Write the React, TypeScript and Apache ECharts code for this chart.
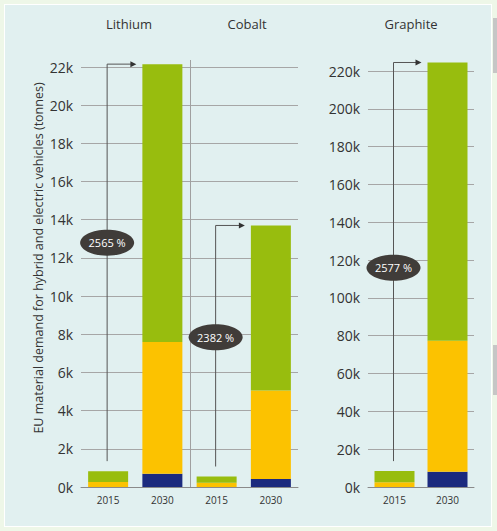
import React, { useEffect, useRef } from "react";
import * as echarts from "echarts";

// ---- data (tonnes) ----
const years = ["2015", "2030"];
const metals = ["Lithium", "Cobalt", "Graphite"];
const leftCategories = ["Lithium|2015", "Lithium|2030", "Cobalt|2015", "Cobalt|2030"];
const rightCategories = ["Graphite|2015", "Graphite|2030"];

const lithiumNavy = [0, 700];
const lithiumYellow = [260, 6900];
const lithiumGreen = [570, 14550];
const cobaltNavy = [0, 420];
const cobaltYellow = [220, 4630];
const cobaltGreen = [330, 8650];
const graphiteNavy = [0, 8000];
const graphiteYellow = [2500, 69300];
const graphiteGreen = [5900, 147200];

const growthLabels = ["2565 %", "2382 %", "2577 %"];
const growthLabelAt = [12800, 7850, 116000];

const leftMax = 22000;
const leftInterval = 2000;
const rightMax = 220000;
const rightInterval = 20000;

const yAxisTitle = "EU material demand for hybrid and electric vehicles (tonnes)";

const NAVY = "#1b2a7e";
const YELLOW = "#fcc200";
const GREEN = "#98bd0e";
const FONT = "'Liberation Sans Narrow', 'Open Sans', sans-serif";

export default function App() {
  const ref = useRef<HTMLDivElement>(null);

  useEffect(() => {
    if (!ref.current) return;
    const chart = echarts.init(ref.current, undefined, { renderer: "svg" });

    const kFmt = (v: number) => `${Math.round(v / 1000)}k`;
    const yearFmt = (v: string) => v.split("|")[1];

    const leftData = {
      navy: [...lithiumNavy, ...cobaltNavy],
      yellow: [...lithiumYellow, ...cobaltYellow],
      green: [...lithiumGreen, ...cobaltGreen],
    };
    const rightData = { navy: graphiteNavy, yellow: graphiteYellow, green: graphiteGreen };

    const yAxisCommon = {
      type: "value" as const,
      axisLine: { show: false },
      axisTick: { show: false },
      splitLine: { lineStyle: { color: "#a6a6a6", width: 1 } },
      axisLabel: { color: "#333", fontSize: 14, fontFamily: FONT, margin: 8, formatter: kFmt },
    };
    const xAxisCommon = {
      type: "category" as const,
      axisLine: { lineStyle: { color: "#8a8a8a" } },
      axisTick: { show: false },
      axisLabel: { color: "#333", fontSize: 10, fontFamily: FONT, margin: 8, formatter: yearFmt },
    };

    const mk = (name: string, data: number[], color: string, idx: number, stack: string) => ({
      type: "bar" as const,
      name,
      data,
      stack,
      xAxisIndex: idx,
      yAxisIndex: idx,
      barWidth: 40,
      clip: false,
      itemStyle: { color },
    });

    chart.setOption({
      animation: false,
      backgroundColor: "transparent",
      grid: [
        { left: 81, right: 199, top: 67, bottom: 44 },
        { left: 368, right: 23, top: 71, bottom: 44 },
      ],
      xAxis: [
        { ...xAxisCommon, gridIndex: 0, data: leftCategories },
        { ...xAxisCommon, gridIndex: 1, data: rightCategories },
      ],
      yAxis: [
        { ...yAxisCommon, gridIndex: 0, min: 0, max: leftMax, interval: leftInterval },
        { ...yAxisCommon, gridIndex: 1, min: 0, max: rightMax, interval: rightInterval },
      ],
      series: [
        mk("navy", leftData.navy, NAVY, 0, "l"),
        mk("yellow", leftData.yellow, YELLOW, 0, "l"),
        mk("green", leftData.green, GREEN, 0, "l"),
        mk("navy", rightData.navy, NAVY, 1, "r"),
        mk("yellow", rightData.yellow, YELLOW, 1, "r"),
        mk("green", rightData.green, GREEN, 1, "r"),
      ],
    });

    // annotations computed from scales
    const groups = [
      { grid: 0, c0: 0, c1: 1, n: lithiumNavy, y: lithiumYellow, g: lithiumGreen },
      { grid: 0, c0: 2, c1: 3, n: cobaltNavy, y: cobaltYellow, g: cobaltGreen },
      { grid: 1, c0: 0, c1: 1, n: graphiteNavy, y: graphiteYellow, g: graphiteGreen },
    ];
    const px = (grid: number, c: number, v: number) =>
      chart.convertToPixel({ xAxisIndex: grid, yAxisIndex: grid }, [c, v]) as number[];

    const elements: any[] = [];
    groups.forEach((gr, i) => {
      const t0 = gr.n[0] + gr.y[0] + gr.g[0];
      const t1 = gr.n[1] + gr.y[1] + gr.g[1];
      const p0 = px(gr.grid, gr.c0, t0);
      const p1 = px(gr.grid, gr.c1, t1);
      const pl = px(gr.grid, gr.c0, growthLabelAt[i]);
      const endX = p1[0] - 20 - 6;
      const lx = p0[0] - 1;
      elements.push({
        type: "polyline",
        shape: { points: [[lx, p0[1] - 10], [lx, p1[1]], [endX - 5, p1[1]]] },
        style: { stroke: "#555", lineWidth: 1, fill: null },
        z: 10,
      });
      elements.push({
        type: "polygon",
        shape: { points: [[endX - 6, p1[1] - 3], [endX, p1[1]], [endX - 6, p1[1] + 3]] },
        style: { fill: "#333" },
        z: 10,
      });
      elements.push({
        type: "ellipse",
        shape: { cx: lx, cy: pl[1], rx: 27, ry: 13 },
        style: { fill: "#403c39" },
        z: 11,
      });
      elements.push({
        type: "text",
        x: lx,
        y: pl[1],
        style: {
          text: growthLabels[i],
          fill: "#fff",
          font: `11px ${FONT}`,
          align: "center",
          verticalAlign: "middle",
        },
        z: 12,
      });
    });

    // divider between Lithium and Cobalt
    const d1 = px(0, 1, 0);
    const d2 = px(0, 2, 0);
    const dTop = px(0, 0, leftMax);
    const dx = (d1[0] + d2[0]) / 2 + 1;
    elements.push({
      type: "line",
      shape: { x1: dx, y1: dTop[1] - 7, x2: dx, y2: d1[1] },
      style: { stroke: "#a0a0a0", lineWidth: 1 },
      z: 1,
    });

    // metal titles
    const titleX = [129, 247, 411];
    metals.forEach((m, i) => {
      elements.push({
        type: "text",
        x: titleX[i],
        y: 24,
        style: { text: m, fill: "#333", font: `13px ${FONT}`, align: "center", verticalAlign: "middle" },
      });
    });

    // y-axis title
    elements.push({
      type: "text",
      x: 38,
      y: 258,
      rotation: Math.PI / 2,
      style: {
        text: yAxisTitle,
        fill: "#333",
        font: `12.5px ${FONT}`,
        align: "center",
        verticalAlign: "middle",
      },
    });

    chart.setOption({ graphic: { elements } });

    return () => chart.dispose();
  }, []);

  return (
    <div style={{ position: "fixed", left: 0, top: 0, width: 497, height: 531, background: "#eef7e8" }}>
      <div
        style={{
          position: "absolute",
          left: 4,
          top: 4,
          width: 486,
          height: 521,
          background: "#e1f0f0",
          border: "1px solid #ffffff",
        }}
      />
      <div style={{ position: "absolute", left: 493, top: 18, width: 4, height: 55, background: "#c6c6c6" }} />
      <div style={{ position: "absolute", left: 493, top: 345, width: 4, height: 50, background: "#c6c6c6" }} />
      <div ref={ref} style={{ position: "absolute", left: 0, top: 0, width: 497, height: 531 }} />
    </div>
  );
}
